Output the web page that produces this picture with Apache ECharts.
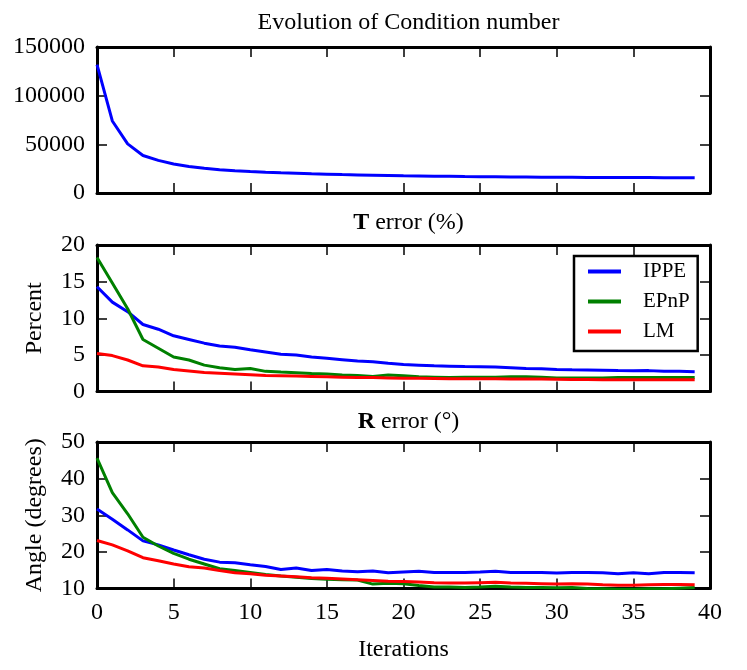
<!DOCTYPE html>
<html>
<head>
<meta charset="utf-8">
<script src="https://cdn.jsdelivr.net/npm/echarts@6/dist/echarts.min.js"></script>
<style>html,body{margin:0;padding:0;background:#fff}#c{width:747px;height:670px}</style>
</head>
<body>
<div id="c"></div>
<script>
const iterations = Array.from({length: 40}, (_, i) => i);
const xTicks = [0, 5, 10, 15, 20, 25, 30, 35, 40];

const condNumber = [132000,74000,50500,38500,33500,29800,27300,25400,24000,22900,22000,21300,20700,20200,19700,19300,18900,18600,18300,18000,17700,17500,17300,17100,16900,16800,16650,16500,16400,16300,16200,16100,16000,15950,15900,15850,15800,15750,15700,15650];

const tErrIPPE = [14.3,12.2,10.9,9.15,8.5,7.6,7.1,6.6,6.2,6.05,5.7,5.4,5.1,4.97,4.7,4.55,4.35,4.15,4.05,3.85,3.7,3.6,3.5,3.45,3.4,3.38,3.35,3.25,3.15,3.1,3.02,2.98,2.95,2.9,2.85,2.83,2.85,2.75,2.75,2.7];
const tErrEPnP = [18.3,14.8,11.3,7.1,5.9,4.7,4.3,3.6,3.25,3.0,3.15,2.75,2.65,2.57,2.45,2.4,2.25,2.2,2.05,2.25,2.15,2.0,1.95,1.9,1.95,1.95,1.95,2.0,2.0,1.95,1.85,1.85,1.85,1.85,1.9,1.9,1.9,1.9,1.9,1.9];
const tErrLM = [5.2,4.9,4.3,3.5,3.35,3.0,2.8,2.6,2.5,2.4,2.3,2.2,2.15,2.1,2.05,2.0,1.95,1.9,1.9,1.85,1.8,1.8,1.78,1.75,1.75,1.75,1.75,1.72,1.72,1.7,1.68,1.65,1.65,1.62,1.62,1.62,1.62,1.6,1.6,1.6];

const rErrIPPE = [31.7,28.9,26.0,23.0,21.9,20.5,19.2,18.0,17.2,17.05,16.5,16.0,15.2,15.6,14.9,15.2,14.8,14.6,14.8,14.3,14.5,14.7,14.4,14.4,14.4,14.5,14.7,14.4,14.4,14.4,14.2,14.4,14.4,14.3,14.0,14.3,14.0,14.4,14.4,14.3];
const rErrEPnP = [45.6,36.2,30.4,24.0,21.6,19.6,18.0,16.7,15.4,14.9,14.4,13.8,13.4,13.1,12.7,12.5,12.4,12.3,11.2,11.4,11.3,10.8,10.4,10.4,10.3,10.4,10.6,10.4,10.3,10.3,10.2,10.3,10.0,9.9,9.8,9.8,9.9,9.9,10.1,10.3];
const rErrLM = [23.1,21.9,20.3,18.4,17.6,16.7,15.95,15.6,14.9,14.3,14.0,13.6,13.4,13.2,12.95,12.8,12.6,12.4,12.2,12.0,11.9,11.8,11.6,11.5,11.5,11.6,11.7,11.5,11.4,11.3,11.2,11.3,11.2,11.0,10.9,10.9,11.0,11.1,11.1,11.0];

const condTicks = [0, 50000, 100000, 150000];
const tTicks = [0, 5, 10, 15, 20];
const rTicks = [10, 20, 30, 40, 50];

const FONT = '"Liberation Serif", "DejaVu Serif", serif';
const pair = arr => iterations.map((x, i) => [x, arr[i]]);

const grids = [
  {left: 97, right: 37, top: 47, height: 146},
  {left: 97, right: 37, top: 245, height: 146.5},
  {left: 97, right: 37, top: 442, height: 146.5}
];

function xAx(gi, pos, labels, name) {
  return {
    type: 'value', gridIndex: gi, position: pos,
    min: xTicks[0], max: xTicks[xTicks.length - 1], interval: 5,
    axisLine: {show: true, onZero: false, lineStyle: {color: '#000', width: 3}},
    axisTick: {show: true, inside: true, length: 10, lineStyle: {color: '#000', width: 1.5}},
    axisLabel: {show: labels, color: '#000', fontFamily: FONT, fontSize: 24, margin: 12,
      formatter: v => String(v)},
    splitLine: {show: false},
    name: name || '', nameLocation: 'middle', nameGap: 49,
    nameTextStyle: {color: '#000', fontFamily: FONT, fontSize: 24}
  };
}
function yAx(gi, pos, ticks, labels, name) {
  return {
    type: 'value', gridIndex: gi, position: pos,
    min: ticks[0], max: ticks[ticks.length - 1], interval: ticks[1] - ticks[0],
    axisLine: {show: true, onZero: false, lineStyle: {color: '#000', width: 3}},
    axisTick: {show: true, inside: true, length: 10, lineStyle: {color: '#000', width: 1.5}},
    axisLabel: {show: labels, color: '#000', fontFamily: FONT, fontSize: 24, margin: 12,
      formatter: v => String(v)},
    splitLine: {show: false},
    name: name || '', nameLocation: 'middle', nameGap: 50, nameRotate: 90,
    nameTextStyle: {color: '#000', fontFamily: FONT, fontSize: 24}
  };
}

const COLORS = {IPPE: '#0000ff', EPnP: '#008000', LM: '#ff0000'};
function ser(name, data, gi, color) {
  return {
    name: name, type: 'line', xAxisIndex: gi, yAxisIndex: gi,
    data: pair(data), showSymbol: false, symbol: 'none', clip: true,
    lineStyle: {color: color, width: 3}, itemStyle: {color: color},
    animation: false, z: 1
  };
}

const titleStyle = {color: '#000', fontFamily: FONT, fontSize: 24, fontWeight: 'normal',
  rich: {b: {fontFamily: FONT, fontSize: 24, fontWeight: 'bold', color: '#000'}}};

const option = {
  animation: false,
  backgroundColor: '#fff',
  title: [
    {text: 'Evolution of Condition number', left: 403.5, top: 6, textAlign: 'center', textStyle: titleStyle},
    {text: '{b|T} error (%)', left: 403.5, top: 206, textAlign: 'center', textStyle: titleStyle},
    {text: '{b|R} error (°)', left: 403.5, top: 405, textAlign: 'center', textStyle: titleStyle}
  ],
  grid: grids,
  xAxis: [
    xAx(0, 'bottom', false), xAx(1, 'bottom', false), xAx(2, 'bottom', true, 'Iterations'),
    xAx(0, 'top', false), xAx(1, 'top', false), xAx(2, 'top', false)
  ],
  yAxis: [
    yAx(0, 'left', condTicks, true), yAx(1, 'left', tTicks, true, 'Percent'), yAx(2, 'left', rTicks, true, 'Angle (degrees)'),
    yAx(0, 'right', condTicks, false), yAx(1, 'right', tTicks, false), yAx(2, 'right', rTicks, false)
  ],
  legend: {
    data: ['IPPE', 'EPnP', 'LM'],
    orient: 'vertical', left: 574, top: 256,
    backgroundColor: '#fff', borderColor: '#000', borderWidth: 2.5, borderRadius: 0,
    padding: [5, 8, 9, 14], itemGap: 9, itemWidth: 33, itemHeight: 4,
    icon: 'rect',
    textStyle: {color: '#000', fontFamily: FONT, fontSize: 21, padding: [0, 0, 0, 17]},
    selectedMode: false, z: 10
  },
  series: [
    ser('Condition number', condNumber, 0, '#0000ff'),
    ser('IPPE', tErrIPPE, 1, COLORS.IPPE),
    ser('EPnP', tErrEPnP, 1, COLORS.EPnP),
    ser('LM', tErrLM, 1, COLORS.LM),
    ser('IPPE', rErrIPPE, 2, COLORS.IPPE),
    ser('EPnP', rErrEPnP, 2, COLORS.EPnP),
    ser('LM', rErrLM, 2, COLORS.LM)
  ]
};

const chart = echarts.init(document.getElementById('c'), null, {renderer: 'canvas'});
chart.setOption(option);
</script>
</body>
</html>
